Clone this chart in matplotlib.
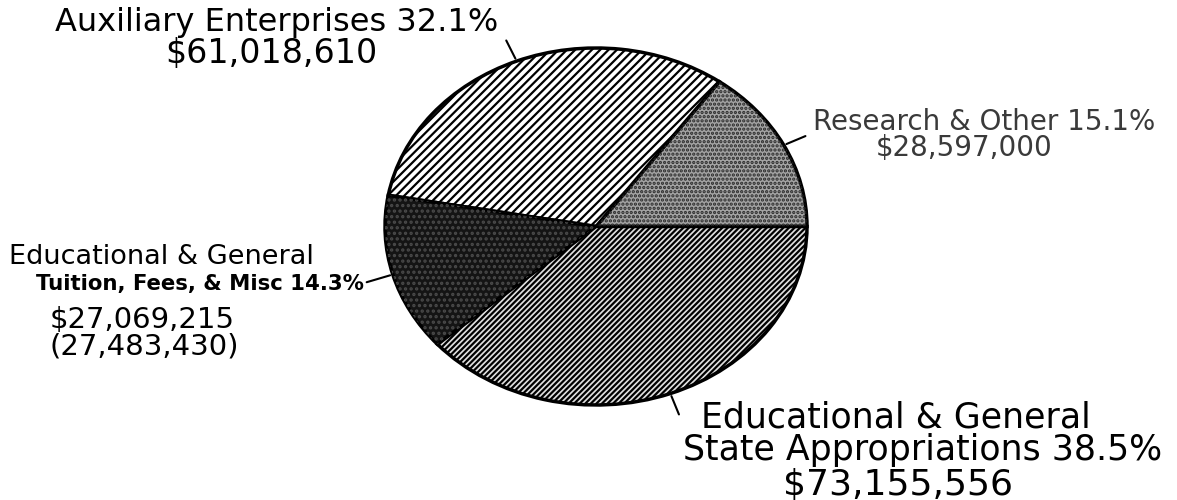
import numpy as np
import matplotlib.pyplot as plt

# slices, counter-clockwise from 3 o'clock
slice_names = ['Research & Other', 'Auxiliary Enterprises',
               'Tuition, Fees, & Misc', 'State Appropriations']
amounts = [28597000, 61018610, 27069215, 73155556]
pct_labels = ['15.1%', '32.1%', '14.3%', '38.5%']
amount_labels = ['$28,597,000', '$61,018,610', '$27,069,215', '$73,155,556']
prior_tuition = '(27,483,430)'

W, H = 1177, 500
fig = plt.figure(figsize=(W / 100, H / 100), dpi=100)
plt.rcParams['hatch.linewidth'] = 1.6


def px(x, y):
    # pixel position (top-left origin) -> figure fraction
    return x / W, 1 - y / H


# pie spans x 385..807, y 48..405 in pixels -> squashed ellipse
ax = fig.add_axes([385 / W, (H - 405) / H, 422 / W, 357 / H])
base_colors = ['#a3a3a3', 'white', '#141414', '#e0e0e0']
wedges, _ = ax.pie(amounts, startangle=0, counterclock=True, colors=base_colors,
                   wedgeprops=dict(edgecolor='black', linewidth=2.5))
# texture layer
hatches = ['....', '////', '...', '//////']
hatch_cols = ['#2a2a2a', 'black', '#4a4a4a', 'black']
over, _ = ax.pie(amounts, startangle=0, counterclock=True,
                 colors=['none'] * 4, wedgeprops=dict(linewidth=0))
for w, h, c in zip(over, hatches, hatch_cols):
    w.set_hatch(h)
    w.set_edgecolor(c)
    w.set_facecolor('none')
ax.set_aspect('auto')
ax.set_xlim(-1, 1)
ax.set_ylim(-1, 1)
ax.axis('off')

# mid angle of each slice for the leader lines
total = sum(amounts)
cum = np.cumsum([0] + amounts[:-1])
mids = [2 * np.pi * (c + a / 2) / total for c, a in zip(cum, amounts)]

leader_ends = [(808, 135), (505, 38), (364, 283), (680, 417)]
for m, (ex, ey) in zip(mids, leader_ends):
    ax.annotate('', xy=(np.cos(m), np.sin(m)), xycoords='data',
                xytext=px(ex, ey), textcoords='figure fraction',
                arrowprops=dict(arrowstyle='-', color='black', lw=1.5))

# Auxiliary
fig.text(*px(277, 22), slice_names[1] + ' ' + pct_labels[1],
         fontsize=23, ha='center', va='center')
fig.text(*px(271, 54), amount_labels[1], fontsize=24, ha='center', va='center')

# Research
fig.text(*px(984, 122), slice_names[0] + ' ' + pct_labels[0], fontsize=20,
         ha='center', va='center', color='#3a3a3a')
fig.text(*px(964, 148), amount_labels[0], fontsize=20, ha='center', va='center',
         color='#3a3a3a')

# Tuition
fig.text(*px(9, 257), 'Educational & General', fontsize=19.5,
         ha='left', va='center')
fig.text(*px(364, 284), slice_names[2] + ' ' + pct_labels[2], fontsize=15.3,
         ha='right', va='center', fontweight='semibold')
fig.text(*px(50, 320), amount_labels[2], fontsize=21, ha='left', va='center')
fig.text(*px(50, 347), prior_tuition, fontsize=21, ha='left', va='center')

# State
fig.text(*px(896, 417), 'Educational & General', fontsize=25,
         ha='center', va='center')
fig.text(*px(923, 450), slice_names[3] + ' ' + pct_labels[3], fontsize=25,
         ha='center', va='center')
fig.text(*px(898, 484), amount_labels[3], fontsize=26, ha='center', va='center')

fig.savefig('out.png', dpi=100)
